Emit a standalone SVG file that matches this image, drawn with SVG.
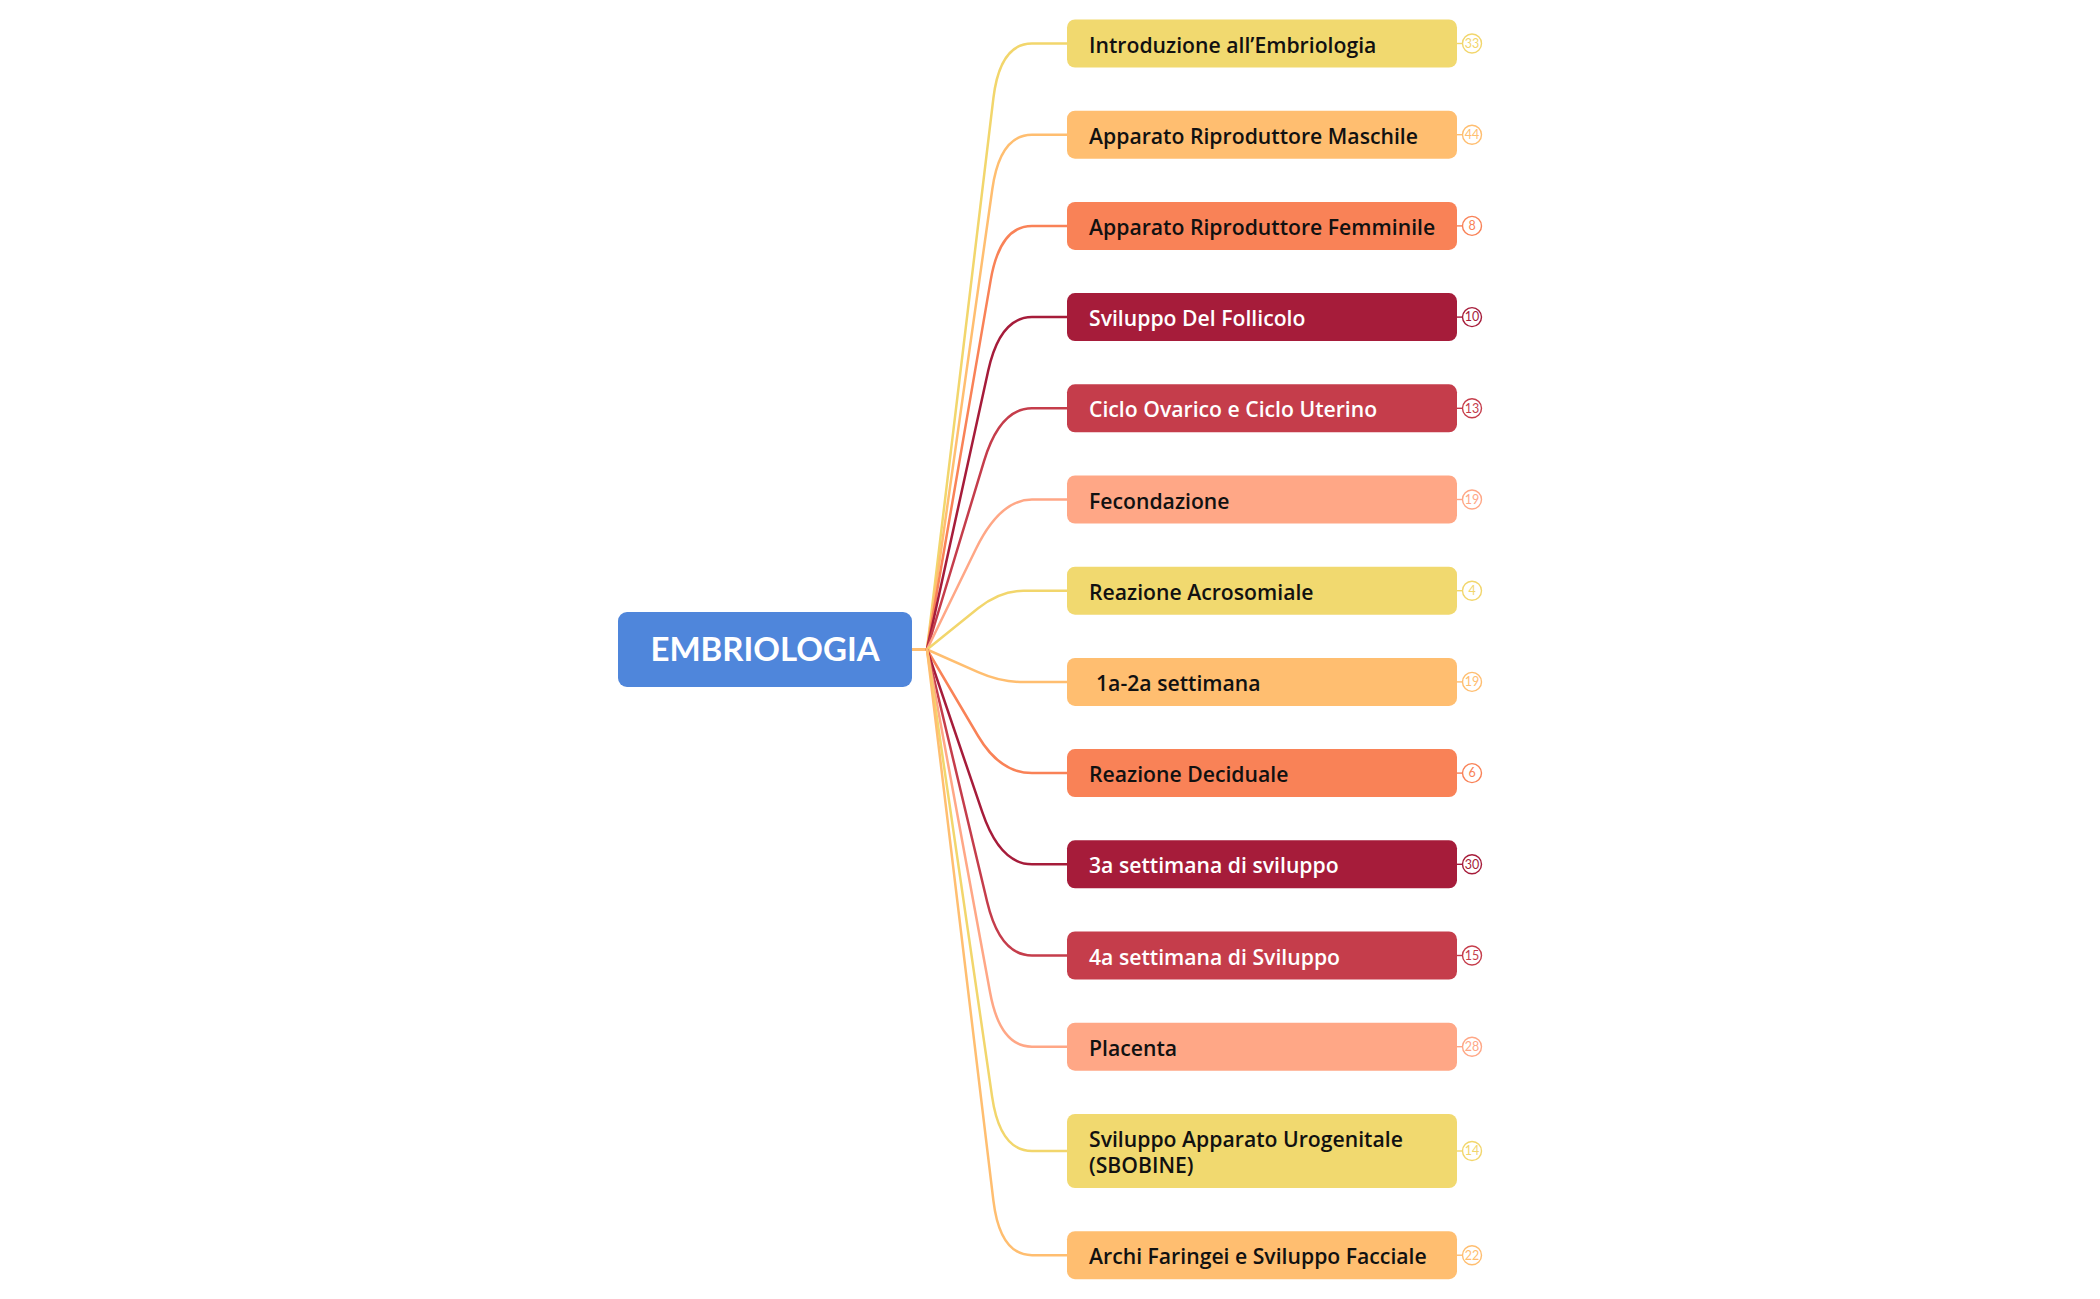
<svg xmlns="http://www.w3.org/2000/svg" width="2100" height="1299" viewBox="0 0 2100 1299">
<style>
.bg{fill:#ffffff}
.root{fill:#4F86DB}
.rt{font-family:Lato,"Liberation Sans",sans-serif;font-weight:700;font-size:33px;fill:#ffffff}
.t{font-family:"Open Sans","Liberation Sans",sans-serif;font-weight:600;font-size:21.2px;fill:#111111}
.tw{fill:#ffffff}
.c{fill:none;stroke-width:2.5;stroke-linecap:round}
.bn{font-family:Lato,"Liberation Sans",sans-serif;font-size:12.5px;text-anchor:middle}
.y{fill:#F1D96F}.ys{stroke:#F2D66C}.yt{fill:#F2D66C}
.o{fill:#FFBE70}.os{stroke:#FFBE70}.ot{fill:#FFBE70}
.r{fill:#F98257}.rs{stroke:#F98257}.rt2{fill:#F98257}
.d{fill:#A61C3A}.ds{stroke:#A61C3A}.dt{fill:#A61C3A}
.e{fill:#C53D4B}.es{stroke:#C53D4B}.et{fill:#C53D4B}
.s{fill:#FFA786}.ss{stroke:#FFA786}.st{fill:#FFA786}
.bc{fill:#ffffff;stroke-width:1.4}
</style>
<rect class="bg" x="0" y="0" width="2100" height="1299"/>
<g id="connectors">
<line x1="912" y1="649.5" x2="927" y2="649.5" stroke="#FFBE70" stroke-width="3"/>
<path class="c ys" d="M927 649.5 L993.4 98.1 Q1000 43.5 1032 43.5 L1067 43.5"/>
<path class="c os" d="M927 649.5 L992.3 189.2 Q1000 134.7 1032 134.7 L1067 134.7"/>
<path class="c rs" d="M927 649.5 L990.7 280.1 Q1000 225.9 1032 225.9 L1067 225.9"/>
<path class="c ds" d="M927 649.5 L988.2 370.8 Q1000 317.1 1032 317.1 L1067 317.1"/>
<path class="c es" d="M927 649.5 L984.1 460.9 Q1000 408.3 1032 408.3 L1067 408.3"/>
<path class="c ss" d="M927 649.5 L975.9 549.0 Q1000 499.5 1032 499.5 L1067 499.5"/>
<path class="c ys" d="M927 649.5 L978.1 608.3 Q1000 590.7 1023.4 590.7 L1067 590.7"/>
<path class="c os" d="M927 649.5 L978.1 672.2 Q1000 681.9 1020 681.9 L1067 681.9"/>
<path class="c rs" d="M927 649.5 L978.1 736.0 Q1000 773.1 1032 773.1 L1067 773.1"/>
<path class="c ds" d="M927 649.5 L982.3 812.2 Q1000 864.3 1032 864.3 L1067 864.3"/>
<path class="c es" d="M927 649.5 L987.2 902.0 Q1000 955.5 1032 955.5 L1067 955.5"/>
<path class="c ss" d="M927 649.5 L990.1 992.6 Q1000 1046.7 1032 1046.7 L1067 1046.7"/>
<path class="c ys" d="M927 649.5 L992.1 1096.6 Q1000 1151 1032 1151 L1067 1151"/>
<path class="c os" d="M927 649.5 L993.4 1200.6 Q1000 1255.2 1032 1255.2 L1067 1255.2"/>
</g>
<g id="root">
<rect class="root" x="618" y="612" width="294" height="75" rx="9"/>
<text class="rt" x="765" y="661" text-anchor="middle">EMBRIOLOGIA</text>
</g>
<g id="n1"><rect class="y" x="1067" y="19.5" width="390" height="48" rx="8"/><text class="t" x="1089" y="52.5">Introduzione all’Embriologia</text>
<line class="ys" x1="1457" y1="43.5" x2="1462.5" y2="43.5" stroke-width="1.4"/><circle class="bc ys" cx="1472" cy="43.5" r="9.5"/><text class="bn yt" x="1472" y="47.8">33</text></g>
<g id="n2"><rect class="o" x="1067" y="110.7" width="390" height="48" rx="8"/><text class="t" x="1089" y="143.7">Apparato Riproduttore Maschile</text>
<line class="os" x1="1457" y1="134.7" x2="1462.5" y2="134.7" stroke-width="1.4"/><circle class="bc os" cx="1472" cy="134.7" r="9.5"/><text class="bn ot" x="1472" y="139">44</text></g>
<g id="n3"><rect class="r" x="1067" y="201.9" width="390" height="48" rx="8"/><text class="t" x="1089" y="234.9">Apparato Riproduttore Femminile</text>
<line class="rs" x1="1457" y1="225.9" x2="1462.5" y2="225.9" stroke-width="1.4"/><circle class="bc rs" cx="1472" cy="225.9" r="9.5"/><text class="bn rt2" x="1472" y="230.2">8</text></g>
<g id="n4"><rect class="d" x="1067" y="293.1" width="390" height="48" rx="8"/><text class="t tw" x="1089" y="326.1">Sviluppo Del Follicolo</text>
<line class="ds" x1="1457" y1="317.1" x2="1462.5" y2="317.1" stroke-width="1.4"/><circle class="bc ds" cx="1472" cy="317.1" r="9.5"/><text class="bn dt" x="1472" y="321.4">10</text></g>
<g id="n5"><rect class="e" x="1067" y="384.3" width="390" height="48" rx="8"/><text class="t tw" x="1089" y="417.3">Ciclo Ovarico e Ciclo Uterino</text>
<line class="es" x1="1457" y1="408.3" x2="1462.5" y2="408.3" stroke-width="1.4"/><circle class="bc es" cx="1472" cy="408.3" r="9.5"/><text class="bn et" x="1472" y="412.6">13</text></g>
<g id="n6"><rect class="s" x="1067" y="475.5" width="390" height="48" rx="8"/><text class="t" x="1089" y="508.5">Fecondazione</text>
<line class="ss" x1="1457" y1="499.5" x2="1462.5" y2="499.5" stroke-width="1.4"/><circle class="bc ss" cx="1472" cy="499.5" r="9.5"/><text class="bn st" x="1472" y="503.8">19</text></g>
<g id="n7"><rect class="y" x="1067" y="566.7" width="390" height="48" rx="8"/><text class="t" x="1089" y="599.7">Reazione Acrosomiale</text>
<line class="ys" x1="1457" y1="590.7" x2="1462.5" y2="590.7" stroke-width="1.4"/><circle class="bc ys" cx="1472" cy="590.7" r="9.5"/><text class="bn yt" x="1472" y="595">4</text></g>
<g id="n8"><rect class="o" x="1067" y="657.9" width="390" height="48" rx="8"/><text class="t" x="1096" y="690.9">1a-2a settimana</text>
<line class="os" x1="1457" y1="681.9" x2="1462.5" y2="681.9" stroke-width="1.4"/><circle class="bc os" cx="1472" cy="681.9" r="9.5"/><text class="bn ot" x="1472" y="686.2">19</text></g>
<g id="n9"><rect class="r" x="1067" y="749.1" width="390" height="48" rx="8"/><text class="t" x="1089" y="782.1">Reazione Deciduale</text>
<line class="rs" x1="1457" y1="773.1" x2="1462.5" y2="773.1" stroke-width="1.4"/><circle class="bc rs" cx="1472" cy="773.1" r="9.5"/><text class="bn rt2" x="1472" y="777.4">6</text></g>
<g id="n10"><rect class="d" x="1067" y="840.3" width="390" height="48" rx="8"/><text class="t tw" x="1089" y="873.3">3a settimana di sviluppo</text>
<line class="ds" x1="1457" y1="864.3" x2="1462.5" y2="864.3" stroke-width="1.4"/><circle class="bc ds" cx="1472" cy="864.3" r="9.5"/><text class="bn dt" x="1472" y="868.6">30</text></g>
<g id="n11"><rect class="e" x="1067" y="931.5" width="390" height="48" rx="8"/><text class="t tw" x="1089" y="964.5">4a settimana di Sviluppo</text>
<line class="es" x1="1457" y1="955.5" x2="1462.5" y2="955.5" stroke-width="1.4"/><circle class="bc es" cx="1472" cy="955.5" r="9.5"/><text class="bn et" x="1472" y="959.8">15</text></g>
<g id="n12"><rect class="s" x="1067" y="1022.7" width="390" height="48" rx="8"/><text class="t" x="1089" y="1055.7">Placenta</text>
<line class="ss" x1="1457" y1="1046.7" x2="1462.5" y2="1046.7" stroke-width="1.4"/><circle class="bc ss" cx="1472" cy="1046.7" r="9.5"/><text class="bn st" x="1472" y="1051">28</text></g>
<g id="n13"><rect class="y" x="1067" y="1114" width="390" height="74" rx="8"/><text class="t" x="1089" y="1146.5">Sviluppo Apparato Urogenitale</text><text class="t" x="1089" y="1172.5">(SBOBINE)</text>
<line class="ys" x1="1457" y1="1151" x2="1462.5" y2="1151" stroke-width="1.4"/><circle class="bc ys" cx="1472" cy="1151" r="9.5"/><text class="bn yt" x="1472" y="1155.3">14</text></g>
<g id="n14"><rect class="o" x="1067" y="1231.2" width="390" height="48" rx="8"/><text class="t" x="1089" y="1264.2">Archi Faringei e Sviluppo Facciale</text>
<line class="os" x1="1457" y1="1255.2" x2="1462.5" y2="1255.2" stroke-width="1.4"/><circle class="bc os" cx="1472" cy="1255.2" r="9.5"/><text class="bn ot" x="1472" y="1259.5">22</text></g>
</svg>
